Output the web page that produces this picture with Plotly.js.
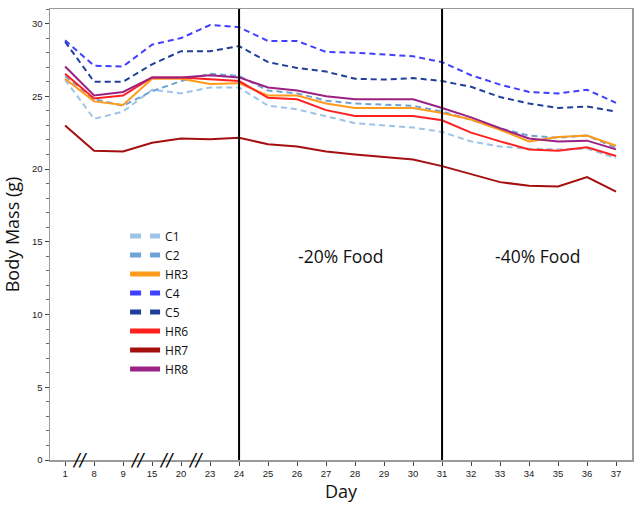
<!DOCTYPE html>
<html>
<head>
<meta charset="utf-8">
<script src="https://cdn.plot.ly/plotly-3.0.1.min.js"></script>
<style>html,body{margin:0;padding:0;background:#fff;}#chart{width:642px;height:508px;}</style>
</head>
<body>
<div id="chart"></div>
<script>
// Day labels (broken axis: equal spacing per measurement day)
const days = ['1','8','9','15','20','23','24','25','26','27','28','29','30','31','32','33','34','35','36','37'];

// Body mass (g) per group
const C1  = [26.15, 23.45, 23.95, 25.45, 25.2, 25.6, 25.6, 24.35, 24.1, 23.6, 23.15, 23.0, 22.85, 22.55, 21.9, 21.55, 21.4, 21.35, 21.4, 20.75];
const C2  = [26.4, 24.8, 24.35, 25.35, 26.05, 26.55, 26.4, 25.4, 25.2, 24.7, 24.5, 24.45, 24.35, 23.95, 23.35, 22.8, 22.3, 22.15, 22.3, 21.45];
const HR3 = [26.2, 24.65, 24.4, 26.2, 26.2, 25.85, 25.9, 25.05, 25.05, 24.5, 24.2, 24.2, 24.2, 23.85, 23.4, 22.7, 21.9, 22.2, 22.3, 21.6];
const C4  = [28.85, 27.1, 27.05, 28.55, 29.0, 29.9, 29.75, 28.8, 28.8, 28.05, 28.0, 27.85, 27.75, 27.35, 26.45, 25.8, 25.3, 25.2, 25.45, 24.55];
const C5  = [28.75, 26.0, 26.0, 27.2, 28.1, 28.1, 28.45, 27.35, 26.95, 26.7, 26.2, 26.15, 26.25, 26.05, 25.65, 24.95, 24.5, 24.2, 24.3, 23.95];
const HR6 = [26.55, 24.85, 25.05, 26.3, 26.3, 26.2, 26.05, 24.9, 24.8, 24.05, 23.65, 23.65, 23.65, 23.35, 22.5, 21.9, 21.35, 21.25, 21.5, 20.9];
const HR7 = [23.0, 21.25, 21.2, 21.8, 22.1, 22.05, 22.15, 21.7, 21.55, 21.2, 21.0, 20.8, 20.65, 20.2, 19.65, 19.1, 18.85, 18.8, 19.45, 18.45];
const HR8 = [27.05, 25.05, 25.3, 26.3, 26.3, 26.45, 26.3, 25.6, 25.4, 25.0, 24.8, 24.8, 24.8, 24.2, 23.55, 22.8, 22.1, 21.9, 21.95, 21.35];

const groupNames = ['C1','C2','HR3','C4','C5','HR6','HR7','HR8'];
const groupValues = [C1, C2, HR3, C4, C5, HR6, HR7, HR8];

// Diet-change days and axis-break positions
const dietDays = ['24','31'];
const dietLabels = ['-20% Food','-40% Food'];
const breakAfter = ['1','9','15','20'];

// styles
const colors = ['#9DC3E6','#6FA3D8','#FF9A1A','#4040FF','#203F9A','#FF2020','#A50F0F','#9B2282'];
const dashed = [true, true, false, true, true, false, false, false];

const traces = [];
groupNames.forEach((n, i) => {
  traces.push({
    x: days, y: groupValues[i], name: n, type: 'scatter', mode: 'lines',
    showlegend: false, hoverinfo: 'skip',
    line: {color: colors[i], width: 2, dash: dashed[i] ? '6px,4px' : 'solid'}
  });
});
// legend entries (thicker swatches)
groupNames.forEach((n, i) => {
  traces.push({
    x: [null], y: [null], name: n, type: 'scatter', mode: 'lines',
    showlegend: true,
    line: {color: colors[i], width: 5, dash: dashed[i] ? '11px,9px' : 'solid'}
  });
});

const shapes = dietDays.map(d => ({
  type: 'line', xref: 'x', yref: 'paper',
  x0: days.indexOf(d), x1: days.indexOf(d), y0: 0, y1: 1,
  line: {color: '#000', width: 2}
}));

const annotations = [];
dietLabels.forEach((t, i) => {
  const a = days.indexOf(dietDays[i]);
  const b = i + 1 < dietDays.length ? days.indexOf(dietDays[i + 1]) : days.length - 1;
  annotations.push({
    x: (a + b) / 2 + (i === 0 ? 0 : 0.3), y: 14, xref: 'x', yref: 'y',
    text: t, showarrow: false,
    font: {family: 'Open Sans, Noto Sans, sans-serif', size: 17.5, color: '#111'}
  });
});
breakAfter.forEach(d => {
  annotations.push({
    x: days.indexOf(d) + 0.5, y: 0, xref: 'x', yref: 'paper',
    yanchor: 'middle', text: '<i>//</i>', showarrow: false,
    font: {family: 'DejaVu Sans, sans-serif', size: 17, color: '#000'}
  });
});

const layout = {
  width: 642, height: 508,
  margin: {l: 50, r: 10, t: 9, b: 48},
  paper_bgcolor: '#fff', plot_bgcolor: '#fff',
  showlegend: true,
  legend: {
    x: 0.129, y: 0.529, xanchor: 'left', yanchor: 'top',
    bgcolor: 'rgba(0,0,0,0)', borderwidth: 0,
    font: {family: 'Open Sans, Noto Sans, sans-serif', size: 12, color: '#111'},
    tracegroupgap: 0, itemwidth: 30
  },
  xaxis: {
    type: 'category', range: [-0.52, 19.55],
    tickmode: 'array', tickvals: days, ticktext: days,
    showgrid: false, zeroline: false,
    showline: true, linecolor: '#9a9a9a', linewidth: 1.5, mirror: true,
    ticks: 'outside', ticklen: 4, tickcolor: '#444', tickwidth: 1,
    tickfont: {family: 'Liberation Sans, Arial, sans-serif', size: 9.5, color: '#222'},
    title: {text: 'Day', font: {family: 'Open Sans, Noto Sans, sans-serif', size: 18, color: '#111'}, standoff: 6}
  },
  yaxis: {
    range: [0, 31], dtick: 5, tick0: 0,
    showgrid: false, zeroline: false,
    showline: true, linecolor: '#9a9a9a', linewidth: 1.5, mirror: true,
    ticks: 'outside', ticklen: 4, tickcolor: '#444', tickwidth: 1,
    minor: {dtick: 1, ticks: 'outside', ticklen: 2.5, tickcolor: '#666', showgrid: false},
    tickfont: {family: 'Liberation Sans, Arial, sans-serif', size: 9.5, color: '#222'},
    title: {text: 'Body Mass (g)', font: {family: 'Open Sans, Noto Sans, sans-serif', size: 18, color: '#111'}, standoff: 7}
  },
  shapes: shapes,
  annotations: annotations
};

Plotly.newPlot('chart', traces, layout, {displayModeBar: false, staticPlot: true});
</script>
</body>
</html>
